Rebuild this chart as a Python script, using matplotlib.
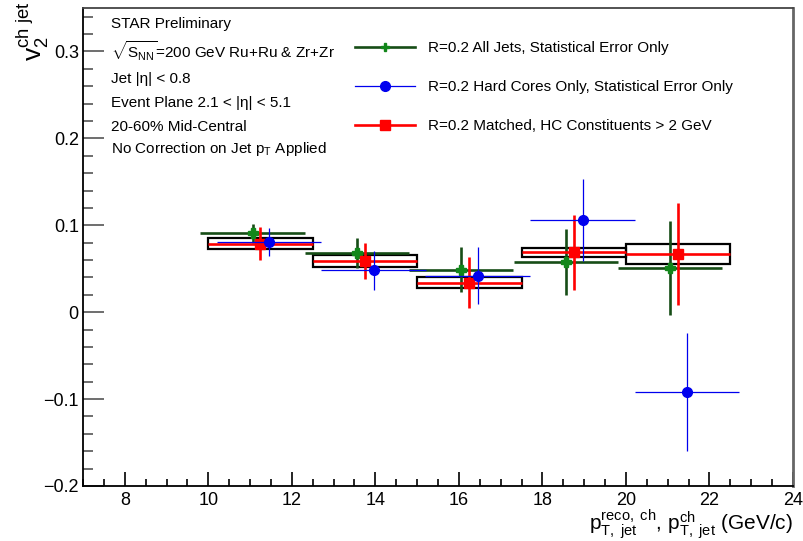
import matplotlib
matplotlib.use("Agg")
import matplotlib.pyplot as plt
from matplotlib.lines import Line2D
from matplotlib.patches import Rectangle
from matplotlib.ticker import MultipleLocator, FuncFormatter

plt.rcParams['font.family'] = ['Liberation Sans', 'DejaVu Sans']
plt.rcParams['mathtext.fontset'] = 'custom'
plt.rcParams['mathtext.rm'] = 'Liberation Sans'
plt.rcParams['mathtext.it'] = 'Liberation Sans:italic'
plt.rcParams['mathtext.bf'] = 'Liberation Sans:bold'

# ───────────── Dados ─────────────
bin_lo   = [10.0, 12.5, 15.0, 17.5, 20.0]
bin_hi   = [12.5, 15.0, 17.5, 20.0, 22.5]

# R=0.2 All Jets (deslocado para a esquerda)
x_all    = [11.06, 13.56, 16.05, 18.56, 21.05]
v2_all   = [0.091, 0.068, 0.049, 0.058, 0.051]
err_all  = [0.011, 0.017, 0.026, 0.038, 0.054]

# R=0.2 Hard Cores (deslocado para a direita)
x_hc     = [11.46, 13.96, 16.45, 18.96, 21.46]
v2_hc    = [0.081, 0.048, 0.042, 0.106, -0.092]
err_hc   = [0.016, 0.022, 0.033, 0.047, 0.068]

# R=0.2 Matched
x_m      = [11.25, 13.75, 16.25, 18.75, 21.25]
v2_m     = [0.079, 0.059, 0.034, 0.069, 0.067]
err_m    = [0.019, 0.021, 0.029, 0.043, 0.059]
sys_m    = [0.0067, 0.0067, 0.0064, 0.0052, 0.012]

labels = ["R=0.2 All Jets, Statistical Error Only",
          "R=0.2 Hard Cores Only, Statistical Error Only",
          "R=0.2 Matched, HC Constituents > 2 GeV"]

c_all_line, c_all_mk = '#164d16', '#12861a'
c_hc = '#0000ee'
c_m = '#ff0000'

# ───────────── Figura ─────────────
fig = plt.figure(figsize=(8.04, 5.41), dpi=100)
ax = fig.add_axes([83/804, 55/541, 710/804, 478/541])

xerr_all = [(h - l) / 2 for l, h in zip(bin_lo, bin_hi)]

# caixas de erro sistemático
for lo, hi, y, s in zip(bin_lo, bin_hi, v2_m, sys_m):
    ax.add_patch(Rectangle((lo, y - s), hi - lo, 2 * s, fill=False,
                           edgecolor='black', lw=1.6, zorder=2))

ax.errorbar(x_all, v2_all, xerr=xerr_all, yerr=err_all, fmt='P',
            color=c_all_line, mfc=c_all_mk, mec=c_all_mk, ms=6.5,
            elinewidth=1.9, capsize=0, zorder=3)
ax.errorbar(x_m, v2_m, xerr=xerr_all, yerr=err_m, fmt='s',
            color=c_m, ms=7.5, elinewidth=1.9, capsize=0, zorder=4)
ax.errorbar(x_hc, v2_hc, xerr=xerr_all, yerr=err_hc, fmt='o',
            color=c_hc, ms=7, elinewidth=0.9, capsize=0, zorder=5)

ax.set_xlim(7, 24)
ax.set_ylim(-0.2, 0.35)

ax.xaxis.set_major_locator(MultipleLocator(2))
ax.xaxis.set_minor_locator(MultipleLocator(0.5))
ax.yaxis.set_major_locator(MultipleLocator(0.1))
ax.yaxis.set_minor_locator(MultipleLocator(0.02))
ax.yaxis.set_major_formatter(FuncFormatter(
    lambda v, p: ('%g' % round(v, 3)).replace('-', '\u2212')))
ax.xaxis.set_major_formatter(FuncFormatter(lambda v, p: '%g' % v))

ax.tick_params(axis='y', which='major', direction='in', length=15, width=1.2,
               color='#555555', labelsize=13, pad=3)
ax.tick_params(axis='y', which='minor', direction='in', length=7.5, width=1.2,
               color='#555555')
ax.tick_params(axis='x', which='major', direction='in', length=10, width=1.2,
               labelsize=13, pad=4)
ax.tick_params(axis='x', which='minor', direction='in', length=5, width=1.2)

ax.spines['left'].set_linewidth(1.3)
ax.spines['bottom'].set_linewidth(1.3)
ax.spines['right'].set_color('#666666')
ax.spines['right'].set_linewidth(2)
ax.spines['top'].set_color('#444444')
ax.spines['top'].set_linewidth(1.3)

# rótulos dos eixos
fig.text(0.041, 0.998, r'$\mathrm{v}_{2}^{\mathrm{ch\ jet}}$', rotation=90,
         ha='center', va='top', fontsize=19)
fig.text(0.986, 0.0,
         r'$\mathrm{p}_{\mathrm{T,\ jet}}^{\mathrm{reco,\ ch}}$, '
         r'$\mathrm{p}_{\mathrm{T,\ jet}}^{\mathrm{ch}}$ (GeV/c)',
         ha='right', va='bottom', fontsize=15)

# bloco de texto
info = ["STAR Preliminary",
        r"$\sqrt{\mathrm{S}_{\mathrm{NN}}}$=200 GeV Ru+Ru & Zr+Zr",
        "Jet |\u03b7| < 0.8",
        "Event Plane 2.1 < |\u03b7| < 5.1",
        "20-60% Mid-Central",
        r"No Correction on Jet p$_{\mathrm{T}}$ Applied"]
info_y = [24, 51, 79, 103, 127, 149]
for t, y in zip(info, info_y):
    fig.text(111/804, 1 - y/541, t, ha='left', va='center', fontsize=11)

# legenda
handles = [
    Line2D([], [], color=c_all_line, lw=1.9, marker='P', mfc=c_all_mk,
           mec=c_all_mk, ms=6),
    Line2D([], [], color=c_hc, lw=0.9, marker='o', ms=7),
    Line2D([], [], color=c_m, lw=1.9, marker='s', ms=7.5),
]
fig.legend(handles, labels, loc='upper left',
           bbox_to_anchor=(355/804, 1 - 41/541), frameon=False, fontsize=11,
           handlelength=3.9, handletextpad=0.85, labelspacing=1.65,
           borderpad=0, borderaxespad=0)

fig.savefig("out.png", dpi=100)
